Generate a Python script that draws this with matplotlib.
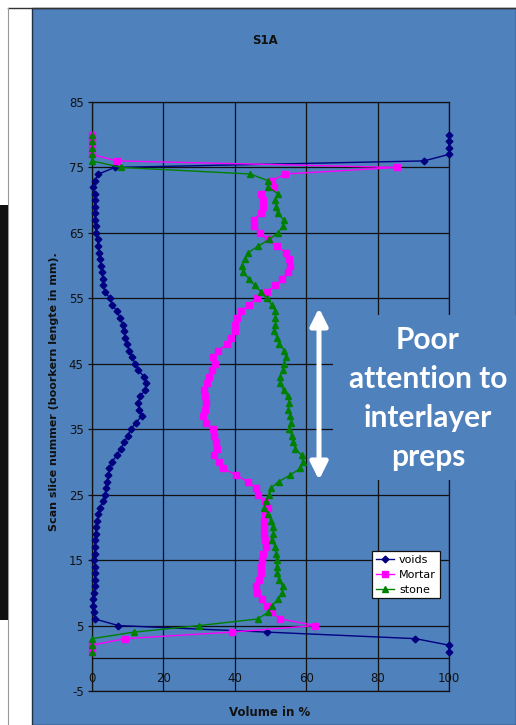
import matplotlib
matplotlib.use("Agg")
import matplotlib.pyplot as plt
from matplotlib.patches import Rectangle
from matplotlib.lines import Line2D

plt.rcParams["axes.unicode_minus"] = False

# ---------------------------------------------------------------------------
# Data (scan slices 1..80)
# ---------------------------------------------------------------------------

slices = list(range(1, 81))

voids = [
    100, 100, 90.6, 49.0, 7.4, 0.8, 0.5, 0.4, 0.3, 0.65,
    0.75, 0.8, 0.8, 0.8, 0.55, 0.75, 0.8, 0.9, 1.0, 1.2,
    1.5, 1.8, 2.3, 3.0, 3.7, 3.9, 4.2, 4.6, 4.9, 5.5,
    7.0, 8.0, 9.1, 10.0, 10.9, 12.3, 13.9, 13.3, 12.9, 13.5,
    14.9, 15.2, 14.6, 13.0, 12.0, 11.3, 10.5, 9.8, 9.3, 9.1,
    8.6, 7.9, 7.0, 5.7, 5.0, 3.7, 3.1, 3.0, 2.8, 2.5,
    2.2, 2.05, 1.8, 1.6, 1.2, 1.0, 0.9, 0.9, 0.8, 0.8,
    0.75, 0.2, 0.8, 1.8, 6.4, 93, 100, 100, 100, 100,
]

mortar = [
    0, 0, 9.2, 39.1, 62.6, 52.8, 50.3, 49.1, 47.5, 46.1,
    46.0, 46.7, 47.2, 47.2, 47.5, 47.8, 48.7, 48.4, 48.2, 48.2,
    48.2, 48.4, 49.4, 48.4, 46.6, 46.0, 43.6, 40.3, 36.8, 35.5,
    34.3, 35.0, 34.6, 34.1, 33.8, 32.0, 31.0, 31.7, 31.8, 31.6,
    31.4, 32.2, 32.8, 33.6, 34.4, 34.0, 35.4, 37.7, 38.8, 40.0,
    40.0, 40.7, 41.8, 43.9, 46.1, 48.9, 51.3, 53.3, 54.8, 55.5,
    55.1, 54.3, 51.7, 49.2, 47.1, 45.5, 45.3, 47.2, 47.8, 47.8,
    47.2, 51.0, 50.3, 54.1, 85.4, 6.9, 0, 0, 0, 0,
]

stone = [
    0, 0, 0, 11.8, 30.0, 46.4, 49.2, 50.4, 52.0, 53.2,
    53.4, 52.3, 51.8, 51.8, 51.7, 51.5, 51.4, 50.3, 50.8, 50.6,
    50.1, 49.4, 48.3, 48.6, 49.7, 50.1, 52.3, 55.5, 58.3, 59.0,
    58.7, 57.0, 56.3, 55.9, 55.3, 55.8, 55.6, 55.0, 55.3, 54.9,
    53.7, 52.6, 52.6, 53.4, 53.7, 54.3, 53.9, 52.5, 51.9, 50.9,
    51.4, 51.4, 51.4, 50.4, 49.0, 47.3, 45.6, 43.9, 42.4, 42.0,
    42.8, 43.8, 46.6, 49.7, 52.0, 53.6, 53.7, 52.0, 51.5, 51.4,
    52.1, 49.2, 49.2, 44.3, 8.2, 0, 0, 0, 0, 0,
]

series_names = ["voids", "Mortar", "stone"]
x_ticks = [0, 20, 40, 60, 80, 100]
y_ticks = [-5, 5, 15, 25, 35, 45, 55, 65, 75, 85]

BLUE = "#4F81BD"
W, H = 516, 725

# ---------------------------------------------------------------------------
# Figure / background
# ---------------------------------------------------------------------------

fig = plt.figure(figsize=(W / 100, H / 100), dpi=100, facecolor="white")


def fx(px):
    return px / W


def fy(py):
    return 1 - py / H


# blue panel + frame lines (behind the axes)
fig.add_artist(Rectangle((fx(32), 0), fx(W - 32), fy(8), transform=fig.transFigure,
                         facecolor=BLUE, edgecolor="#1f2f45", linewidth=1.0, zorder=-10))
fig.add_artist(Line2D([fx(8), 1], [fy(8), fy(8)], color="#333333", lw=1.0, zorder=-9))
fig.add_artist(Line2D([fx(8), fx(8)], [0, fy(8)], color="#999999", lw=0.8, zorder=-9))
fig.add_artist(Rectangle((0, fy(620)), fx(8), (620 - 205) / H, transform=fig.transFigure,
                         facecolor="#111111", edgecolor="none", zorder=-9))

ax = fig.add_axes([fx(92), 1 - 691 / H, 357 / W, 589 / H])
ax.set_facecolor(BLUE)

styles = {
    "voids": dict(color="#000080", marker="D", ms=3.4),
    "Mortar": dict(color="#FF00FF", marker="s", ms=4.5),
    "stone": dict(color="#008000", marker="^", ms=5),
}
for name, vals in zip(series_names, [voids, mortar, stone]):
    st = styles[name]
    ax.plot(vals, slices, color=st["color"], lw=1.0, marker=st["marker"],
            ms=st["ms"], mec=st["color"], mfc=st["color"], label=name, zorder=3,
            clip_on=False)

ax.set_xlim(0, 100)
ax.set_ylim(-5, 85)
ax.set_xticks(x_ticks)
ax.set_yticks(y_ticks)
ax.grid(True, color="#111111", lw=0.9, zorder=1)
ax.set_axisbelow(True)

for side in ["top", "right", "left"]:
    ax.spines[side].set_color("#111111")
    ax.spines[side].set_linewidth(0.9)
ax.spines["bottom"].set_position(("data", 0))
ax.spines["bottom"].set_color("#111111")
ax.spines["bottom"].set_linewidth(0.9)
ax.axhline(-5, color="#111111", lw=0.9, clip_on=False, zorder=1)

ax.tick_params(axis="y", direction="out", length=3, width=0.9, pad=3,
               labelsize=8.5, labelcolor="#111111", color="#111111")
ax.tick_params(axis="x", length=0, pad=10, labelsize=8.5, labelcolor="#111111")

# titles / labels
fig.text(fx(265), fy(40), "S1A", ha="center", va="center", fontsize=8.5,
         fontweight="bold", color="#111111")
fig.text(fx(270), fy(713), "Volume in %", ha="center", va="center", fontsize=8.5,
         fontweight="bold", color="#111111")
fig.text(fx(54), fy(392), "Scan slice nummer (boorkern lengte in mm).", ha="center",
         va="center", rotation=90, fontsize=8, fontweight="bold", color="#111111")

leg = ax.legend(loc="upper left", bbox_to_anchor=(0.7835, 0.2382), borderaxespad=0,
                fancybox=False, framealpha=1, edgecolor="#111111", fontsize=8,
                handlelength=1.7, handletextpad=0.4, borderpad=0.35, labelspacing=0.45,
                numpoints=1)
leg.get_frame().set_linewidth(0.9)
leg.set_zorder(6)

# annotation box covering the grid
ax.add_patch(Rectangle((0.675, 0.358), 0.52, 0.28, transform=ax.transAxes,
                       facecolor=BLUE, edgecolor="none", clip_on=False, zorder=4))
ax.text(fx(428), fy(398.5), "Poor\nattention to\ninterlayer\npreps", ha="center",
        va="center", fontsize=21.5, fontweight="bold", color="white",
        family=["Lato", "DejaVu Sans"], linespacing=1.47, zorder=7,
        transform=fig.transFigure)

ax.annotate("", xy=(319, H - 308), xytext=(319, H - 480), xycoords="figure pixels",
            textcoords="figure pixels",
            arrowprops=dict(arrowstyle="<|-|>", color="white", lw=3.6,
                            mutation_scale=26, shrinkA=0, shrinkB=0),
            zorder=7, annotation_clip=False)

fig.savefig("out.png", dpi=100, facecolor="white")
